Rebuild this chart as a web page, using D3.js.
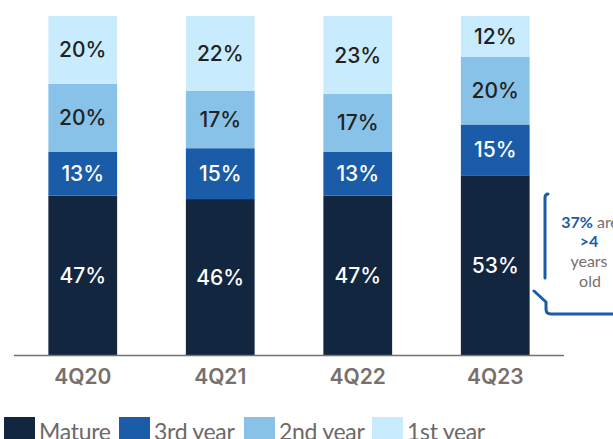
<!DOCTYPE html>
<html>
<head>
<meta charset="utf-8">
<script src="https://cdn.jsdelivr.net/npm/d3@7/dist/d3.min.js"></script>
<style>
  html, body { margin: 0; padding: 0; background: #fff; }
  svg { display: block; font-family: Inter, "Open Sans", sans-serif; }
</style>
</head>
<body>
<svg id="chart" width="613" height="439"></svg>
<script>
// Quarters on the x axis
const quarters = ["4Q20", "4Q21", "4Q22", "4Q23"];

// Share of locations by age cohort (%), one array per cohort
const mature   = [47, 46, 47, 53];
const thirdYr  = [13, 15, 13, 15];
const secondYr = [20, 17, 17, 20];
const firstYr  = [20, 22, 23, 12];

const seriesNames  = ["Mature", "3rd year", "2nd year", "1st year"];
const seriesColors = ["#12263f", "#1a5ca8", "#88c2e8", "#c8ecfd"];
const labelColors  = ["#ffffff", "#ffffff", "#222222", "#222222"];

const rows = quarters.map((q, i) => ({
  quarter: q,
  "Mature": mature[i],
  "3rd year": thirdYr[i],
  "2nd year": secondYr[i],
  "1st year": firstYr[i]
}));

const svg = d3.select("#chart");

const x = d3.scaleBand()
  .domain(quarters)
  .range([14, 564])
  .paddingInner(0.5)
  .paddingOuter(0.25);

const y = d3.scaleLinear()
  .domain([0, 100])
  .range([355, 16]);

const stacked = d3.stack().keys(seriesNames)(rows);

const layers = svg.append("g").selectAll("g")
  .data(stacked)
  .join("g")
  .attr("fill", (d, i) => seriesColors[i]);

layers.selectAll("rect")
  .data(d => d)
  .join("rect")
  .attr("x", d => x(d.data.quarter))
  .attr("width", x.bandwidth())
  .attr("y", d => y(d[1]))
  .attr("height", d => y(d[0]) - y(d[1]));

// Value labels centred in each segment
const labels = svg.append("g");
stacked.forEach((layer, li) => {
  labels.selectAll(null)
    .data(layer)
    .join("text")
    .attr("x", d => x(d.data.quarter) + x.bandwidth() / 2)
    .attr("y", d => (y(d[0]) + y(d[1])) / 2)
    .attr("dy", "0.36em")
    .attr("text-anchor", "middle")
    .style("font-size", "21px")
    .style("font-weight", 500)
    .attr("fill", labelColors[li])
    .text(d => (d[1] - d[0]) + "%");
});

// Baseline and quarter labels
const xAxis = svg.append("g")
  .attr("transform", "translate(0,355.5)")
  .call(d3.axisBottom(x).tickSize(0).tickPadding(14));
xAxis.select(".domain")
  .attr("d", "M14,0H564")
  .attr("stroke", "#7a706c")
  .attr("stroke-width", 1.5);
xAxis.selectAll(".tick text")
  .style("font-family", "Inter, 'Open Sans', sans-serif")
  .style("font-size", "21px")
  .style("font-weight", 600)
  .attr("fill", "#77706c");

// Callout bracket beside the latest bar
const callout = svg.append("g")
  .attr("fill", "none")
  .attr("stroke", "#1a5ca8")
  .attr("stroke-width", 3)
  .attr("stroke-linecap", "round")
  .attr("stroke-linejoin", "round");
callout.append("path").attr("d", "M548,194 Q545,194 545,198 L545,278");
callout.append("path").attr("d", "M534,291 L546,302 L546,309 Q546,314 551,314 L615,314");

const note = svg.append("g")
  .attr("text-anchor", "middle")
  .style("font-family", "Lato, sans-serif")
  .style("font-size", "16px")
  .style("font-weight", 400);
const line1 = note.append("text").attr("x", 590).attr("y", 228);
line1.append("tspan").attr("fill", "#1a5ca8").style("font-weight", 700).text("37%");
line1.append("tspan").attr("fill", "#77706c").text(" are");
note.append("text").attr("x", 589).attr("y", 247)
  .attr("fill", "#1a5ca8").style("font-weight", 700).text(">4");
note.append("text").attr("x", 589).attr("y", 267)
  .attr("fill", "#77706c").text("years");
note.append("text").attr("x", 590).attr("y", 287)
  .attr("fill", "#77706c").text("old");

// Legend along the bottom edge
const legendX = [4, 119, 244, 372];
const legend = svg.append("g").selectAll("g")
  .data(seriesNames)
  .join("g")
  .attr("transform", (d, i) => `translate(${legendX[i]},417)`);
legend.append("rect")
  .attr("width", 31)
  .attr("height", 24)
  .attr("fill", (d, i) => seriesColors[i]);
legend.append("text")
  .attr("x", 35)
  .attr("y", 23)
  .style("font-family", "Lato, sans-serif")
  .style("font-size", "23px")
  .style("letter-spacing", "-0.3px")
  .style("font-weight", 400)
  .attr("fill", "#6f6866")
  .text(d => d);
</script>
</body>
</html>
